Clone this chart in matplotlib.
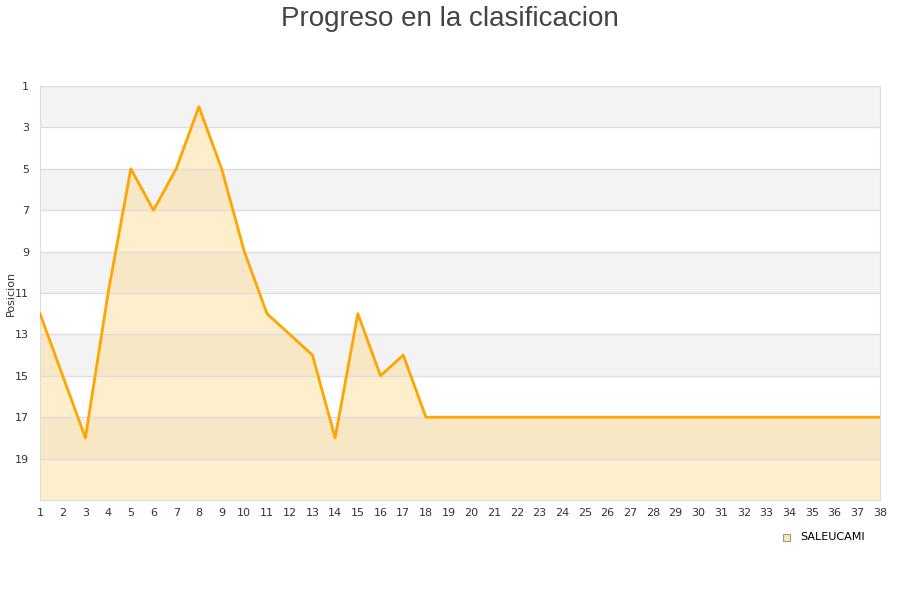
import numpy as np
import matplotlib
matplotlib.use("Agg")
import matplotlib.pyplot as plt

jornadas = list(range(1, 39))
posiciones = [12, 15, 18, 11, 5, 7, 5, 2, 5, 9, 12, 13, 14, 18, 12, 15, 14, 17] + [17] * 20
equipo = "SALEUCAMI"
titulo = "Progreso en la clasificacion"

fig = plt.figure(figsize=(9, 6), dpi=100)
ax = fig.add_axes([40 / 900, 100 / 600, 840 / 900, 414 / 600])

ymin, ymax = 1, 21
# bandas alternas
for lo in range(1, 21, 4):
    ax.axhspan(lo, lo + 2, color="#f3f3f3", zorder=0, lw=0)

ax.fill_between(jornadas, posiciones, ymax, color="#ffd580", alpha=0.4, zorder=1, lw=0)
ax.plot(jornadas, posiciones, color="#ffa500", lw=2, zorder=3)

ax.set_xlim(1, 38)
ax.set_ylim(ymax, ymin)
ax.set_xticks(jornadas)
ax.set_yticks(range(1, 21, 2))
ax.tick_params(axis="both", length=0, labelsize=8, colors="#333333", pad=6)
ax.tick_params(axis="y", pad=8)
ax.yaxis.grid(True, color="#dddddd", lw=1, zorder=2)
ax.set_axisbelow(False)
for s in ax.spines.values():
    s.set_color("#dddddd")
fig.text(11 / 900, 1 - 293 / 600, "Posicion", rotation=90, ha="center", va="center",
         fontsize=8, color="#333333")

fig.text(0.5, 1 - 26 / 600, titulo, ha="center", va="baseline", fontsize=20,
         color="#444444", family="Liberation Sans")

fig.patches.append(plt.Rectangle((783 / 900, 1 - 541 / 600), 7 / 900, 7 / 600,
                                 transform=fig.transFigure, facecolor="#ffe4b3",
                                 edgecolor="#999999", lw=0.8))
fig.text(800 / 900, 1 - 537 / 600, equipo, ha="left", va="center", fontsize=8, color="#000000")

fig.savefig("out.png", dpi=100)
